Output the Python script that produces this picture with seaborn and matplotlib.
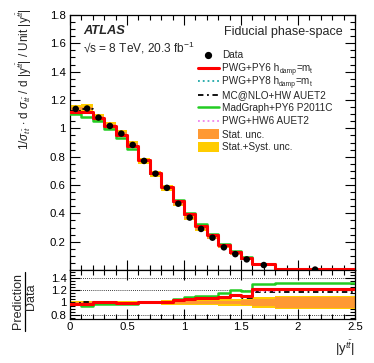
import numpy as np
import pandas as pd
import matplotlib
matplotlib.use("Agg")
import matplotlib.pyplot as plt
import seaborn as sns
from matplotlib.lines import Line2D
from matplotlib.patches import Rectangle
from matplotlib.ticker import MultipleLocator, FormatStrFormatter

# bin edges in |y_tt| and measured data
edges = [0.0, 0.1, 0.2, 0.3, 0.4, 0.5, 0.6, 0.7, 0.8, 0.9, 1.0,
         1.1, 1.2, 1.3, 1.4, 1.5, 1.6, 1.8, 2.5]
data = [1.137, 1.14, 1.076, 1.017, 0.963, 0.883, 0.77, 0.68, 0.58, 0.468,
        0.37, 0.29, 0.228, 0.16, 0.112, 0.075, 0.035, 0.003]
stat_rel = [0.012, 0.012, 0.012, 0.012, 0.012, 0.013, 0.014, 0.015, 0.016, 0.018,
            0.02, 0.022, 0.025, 0.028, 0.03, 0.035, 0.05, 0.095]
tot_rel = [0.025, 0.025, 0.026, 0.026, 0.027, 0.028, 0.03, 0.032, 0.034, 0.036,
           0.04, 0.045, 0.048, 0.05, 0.055, 0.06, 0.085, 0.105]

# prediction / data ratios
r_pwg_py6 = [0.98, 0.98, 1.0, 1.0, 0.99, 0.99, 1.01, 1.01, 1.01, 1.04,
             1.06, 1.08, 1.08, 1.095, 1.13, 1.10, 1.215, 1.225]
r_pwg_py8 = [0.98, 0.98, 0.99, 1.0, 0.99, 0.99, 1.0, 1.01, 1.01, 1.03,
             1.06, 1.07, 1.07, 1.09, 1.12, 1.09, 1.20, 1.21]
r_mcnlo = [0.99, 1.0, 1.0, 1.0, 0.99, 0.99, 1.0, 1.0, 1.0, 1.03,
           1.05, 1.06, 1.06, 1.08, 1.10, 1.08, 1.17, 1.17]
r_madgraph = [0.97, 0.95, 0.98, 0.98, 0.97, 0.97, 1.01, 1.01, 1.01, 1.06,
              1.095, 1.11, 1.11, 1.16, 1.20, 1.18, 1.30, 1.32]
r_pwg_hw6 = [0.98, 0.98, 1.0, 1.0, 0.99, 0.99, 1.0, 1.0, 1.01, 1.03,
             1.05, 1.07, 1.07, 1.08, 1.11, 1.09, 1.19, 1.20]

# legend labels as (text, is_subscript) pieces
models = [
    ([("PWG+PY6 h", 0), ("damp", 1), ("=m", 0), ("t", 1)], r_pwg_py6, "#ff0000", "-", 2.2),
    ([("PWG+PY8 h", 0), ("damp", 1), ("=m", 0), ("t", 1)], r_pwg_py8, "#1fa8a8", ":", 1.3),
    ([("MC@NLO+HW AUET2", 0)], r_mcnlo, "black", (0, (3, 2, 1, 2)), 1.3),
    ([("MadGraph+PY6 P2011C", 0)], r_madgraph, "#22cc22", "-", 1.8),
    ([("PWG+HW6 AUET2", 0)], r_pwg_hw6, "#ee82ee", ":", 1.3),
]

sns.set_theme(style="ticks")
plt.rcParams["font.family"] = ["Liberation Sans", "DejaVu Sans"]
plt.rcParams["mathtext.fontset"] = "custom"
plt.rcParams["mathtext.rm"] = "Liberation Sans"
plt.rcParams["mathtext.it"] = "Liberation Sans:italic"
plt.rcParams["mathtext.bf"] = "Liberation Sans:bold"

edges_a = np.array(edges)
data_a = np.array(data)
centers = 0.5 * (edges_a[:-1] + edges_a[1:])

W, H = 374, 363


def stepvals(v):
    v = list(v)
    return v + [v[-1]]


def fx(px):
    return px / W


def fy(py):
    return 1 - py / H


fig = plt.figure(figsize=(3.74, 3.63), dpi=100)
ax = fig.add_axes([fx(70), fy(270), fx(355) - fx(70), fy(15) - fy(270)])
rx = fig.add_axes([fx(70), fy(319), fx(355) - fx(70), fy(270) - fy(319)], sharex=ax)

# top panel: uncertainty boxes
tot_abs = data_a * np.array(tot_rel)
stat_abs = data_a * np.array(stat_rel)
ax.fill_between(edges, stepvals(data_a - tot_abs), stepvals(data_a + tot_abs),
                step="post", color="#ffcc00", lw=0, zorder=1)
ax.fill_between(edges, stepvals(data_a - stat_abs), stepvals(data_a + stat_abs),
                step="post", color="#ff9933", lw=0, zorder=1)

draw_order = [3, 1, 2, 4, 0]
for i in draw_order:
    label, ratio, col, ls, lw = models[i]
    pred = data_a * np.array(ratio)
    df = pd.DataFrame({"x": edges, "y": stepvals(pred)})
    sns.lineplot(data=df, x="x", y="y", drawstyle="steps-post", color=col,
                 linestyle=ls, lw=lw, ax=ax, errorbar=None, zorder=3)

dd = pd.DataFrame({"x": centers, "y": data})
sns.scatterplot(data=dd, x="x", y="y", color="black", s=22, edgecolor="none",
                ax=ax, zorder=10)

# ratio panel
ones = np.ones(len(data))
rx.fill_between(edges, stepvals(ones - tot_rel), stepvals(ones + np.array(tot_rel)),
                step="post", color="#ffcc00", lw=0, zorder=1)
rx.fill_between(edges, stepvals(ones - stat_rel), stepvals(ones + np.array(stat_rel)),
                step="post", color="#ff9933", lw=0, zorder=1)
for yv in [0.8, 1.0, 1.2, 1.4]:
    rx.axhline(yv, color="black", ls=(0, (1, 1.5)), lw=0.6, zorder=0.5)
for i in draw_order:
    label, ratio, col, ls, lw = models[i]
    df = pd.DataFrame({"x": edges, "y": stepvals(ratio)})
    sns.lineplot(data=df, x="x", y="y", drawstyle="steps-post", color=col,
                 linestyle=ls, lw=lw, ax=rx, errorbar=None, zorder=3)

# axes styling
for a in (ax, rx):
    a.set_xlim(0, 2.5)
    a.xaxis.set_major_locator(MultipleLocator(0.5))
    a.xaxis.set_minor_locator(MultipleLocator(0.1))
    a.tick_params(which="both", direction="in", top=True, right=True,
                  labelsize=8.2, width=0.8, colors="black")
    a.tick_params(which="major", length=7)
    a.tick_params(which="minor", length=3.5)
    for s in a.spines.values():
        s.set_linewidth(0.9)
        s.set_color("black")
    a.set_xlabel("")
    a.set_ylabel("")

ax.set_ylim(0, 1.8)
ax.set_yticks([0.2, 0.4, 0.6, 0.8, 1.0, 1.2, 1.4, 1.6, 1.8])
ax.yaxis.set_minor_locator(MultipleLocator(0.05))
ax.yaxis.set_major_formatter(FormatStrFormatter("%g"))
ax.tick_params(labelbottom=False)

rx.set_ylim(0.73, 1.53)
rx.set_yticks([0.8, 1.0, 1.2, 1.4])
rx.yaxis.set_minor_locator(MultipleLocator(0.05))
rx.yaxis.set_major_formatter(FormatStrFormatter("%g"))
rx.xaxis.set_major_formatter(FormatStrFormatter("%g"))
rx.tick_params(axis="x", pad=2)
rx.tick_params(axis="y", pad=2.5)
ax.tick_params(axis="y", pad=3)

# axis titles
fig.text(fx(24), fy(8), r"1/$\sigma_{t\bar{t}}$ $\cdot$ d $\sigma_{t\bar{t}}$ / d |y$^{t\bar{t}}$| / Unit |y$^{t\bar{t}}$|",
         rotation=90, ha="center", va="top", fontsize=8.5)
fig.text(fx(17.5), fy(301), "Prediction", rotation=90, ha="center", va="center",
         fontsize=9)
fig.text(fx(31), fy(297), "Data", rotation=90, ha="center", va="center",
         fontsize=9)
fig.add_artist(Line2D([fx(24.5), fx(24.5)], [fy(272), fy(331)], color="black",
                      lw=0.9, transform=fig.transFigure))
fig.text(fx(355), fy(348), r"|y$^{t\bar{t}}$|", ha="right", va="center", fontsize=9.5)

# labels
fig.text(fx(83), fy(31), "ATLAS", fontsize=9.3, fontweight="bold",
         fontstyle="italic", va="center")
fig.text(fx(83), fy(48), "\u221as = 8 TeV, 20.3 fb$^{-1}$", fontsize=8.6, va="center")
fig.text(fx(343), fy(32), "Fiducial phase-space", fontsize=9, ha="right", va="center")

# legend rows
renderer = fig.canvas.get_renderer()


def piece_label(x_px, py, pieces, size=7.2):
    base = py + 3.5
    for txt, sub in pieces:
        if sub:
            t = fig.text(fx(x_px), fy(base + 1.8), txt, fontsize=size * 0.68,
                         va="baseline", ha="left")
        else:
            t = fig.text(fx(x_px), fy(base), txt, fontsize=size,
                         va="baseline", ha="left")
        x_px += t.get_window_extent(renderer).width


row_y = [55, 67.5, 81, 94.5, 107.5, 120.5, 134, 147]
labels = [[("Data", 0)]] + [m[0] for m in models] + \
    [[("Stat. unc.", 0)], [("Stat.+Syst. unc.", 0)]]
for k, (lab, py) in enumerate(zip(labels, row_y)):
    piece_label(222, py, lab)
    if k == 0:
        fig.add_artist(Line2D([fx(208)], [fy(py)], marker="o", color="black",
                              markersize=4.2, ls="none", transform=fig.transFigure))
    elif k <= 5:
        _, _, col, ls, lw = models[k - 1]
        fig.add_artist(Line2D([fx(198), fx(219)], [fy(py), fy(py)], color=col,
                              ls=ls, lw=lw, transform=fig.transFigure))
    else:
        col = "#ff9933" if k == 6 else "#ffcc00"
        fig.add_artist(Rectangle((fx(198), fy(py + 5)), fx(219) - fx(198),
                                 fy(py - 5) - fy(py + 5), color=col, lw=0,
                                 transform=fig.transFigure))

fig.savefig("out.png", dpi=100)
